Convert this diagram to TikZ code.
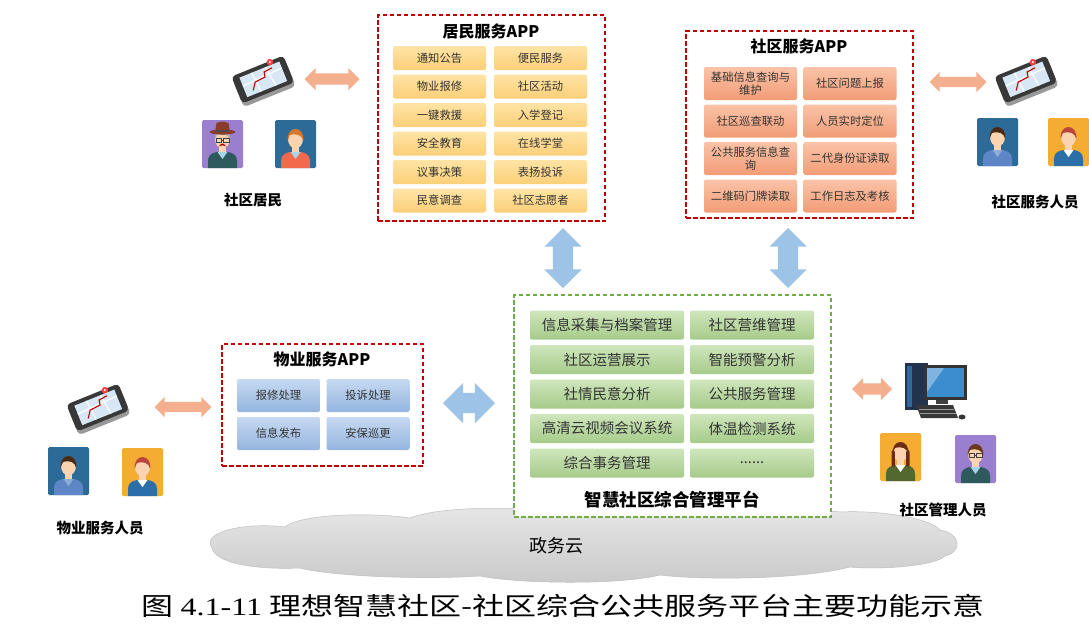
\documentclass[tikz,border=0pt]{standalone}
\usepackage{fontspec}
\setmainfont{Noto Sans CJK SC}
\newfontfamily\numfont{Liberation Serif}
\usetikzlibrary{arrows.meta,positioning,shapes.arrows,fit}

\definecolor{appred}{HTML}{C00000}
\definecolor{platgreen}{HTML}{70AD47}
\definecolor{resyellow}{HTML}{FFE4A6}
\definecolor{resyellowdk}{HTML}{FBCF78}
\definecolor{comsalmon}{HTML}{FAC3A8}
\definecolor{comsalmondk}{HTML}{F29C76}
\definecolor{propblue}{HTML}{C6D9F1}
\definecolor{propbluedk}{HTML}{95B5DF}
\definecolor{platlt}{HTML}{CFE6BC}
\definecolor{platdk}{HTML}{A6CB8A}
\definecolor{linkblue}{HTML}{9DC3E6}
\definecolor{linkorange}{HTML}{F4B08E}
\definecolor{skin}{HTML}{FAD3B0}
\definecolor{bgpurple}{HTML}{9A7FD1}
\definecolor{bgblue}{HTML}{2C6A97}
\definecolor{bgorange}{HTML}{F4AC32}
\definecolor{vestteal}{HTML}{2E5A5E}
\definecolor{shirtblue}{HTML}{A4D5E8}
\definecolor{hatbrown}{HTML}{8B3B2B}
\definecolor{hairorange}{HTML}{D9772A}
\definecolor{hairdark}{HTML}{4B2A15}
\definecolor{hairred}{HTML}{B9473B}
\definecolor{hairlong}{HTML}{6E2A15}
\definecolor{hairbrown}{HTML}{6B3A1E}
\definecolor{coatred}{HTML}{F26A4B}
\definecolor{shirtmid}{HTML}{5E86C6}
\definecolor{suitblue}{HTML}{2C6FA8}
\definecolor{olive}{HTML}{52682F}
\definecolor{pcnavy}{HTML}{23324D}
\definecolor{pcscreen}{HTML}{3C8DD0}

\tikzset{
  % bust in a coloured square: #1 backdrop, #2 hair, #3 jacket, #4 collar
  pics/avatar/.style n args={4}{code={
    \fill[#1, rounded corners=1.5pt] (0,0) rectangle (41,48);
    \fill[#3] (6,48) -- (6,41) .. controls (6,35) and (10,33) .. (15,32)
      -- (26,32) .. controls (31,33) and (35,35) .. (35,41) -- (35,48) -- cycle;
    \fill[skin] (17,25) rectangle (24,33);
    \fill[#4] (15.5,32) -- (20.5,39) -- (25.5,32) -- cycle;
    \fill[skin] (20.5,19) ellipse (7.5 and 9.5);
    \fill[#2] (12.8,21) .. controls (11,5) and (30,5) .. (28.2,21)
      .. controls (27,15) and (22,13) .. (15,15) .. controls (14,17) .. (12.8,21) -- cycle;
  }},
  % smartphone with a map on its screen
  pics/phone/.style={code={
    \begin{scope}[rotate=22]
      \fill[black!40, rounded corners=4pt] (-28,-11) rectangle (28,18);
      \fill[black!78, rounded corners=4pt] (-28,-15) rectangle (28,14);
      \fill[linkblue!40] (-21,-11) rectangle (22,10);
      \draw[white, line width=1.2pt] (-21,-2) -- (22,-4) (-8,-11) -- (-6,10) (7,-11) -- (10,10);
      \draw[red!75!black, line width=1.1pt] (-13,6) -- (-8,-1) -- (3,-2) -- (4,-7) -- (13,-8);
      \fill[red!75] (13,-14) circle (3.2);
      \fill[white] (13,-14) circle (1.1);
    \end{scope}
  }},
  % desktop computer
  pics/desktop/.style={code={
    \fill[pcnavy] (-31,-29) rectangle (-8,18);
    \fill[pcscreen!60!pcnavy] (-29,-26) rectangle (-24,15);
    \fill[black!75] (0,6) rectangle (12,12);
    \fill[black!80] (-12,-27) rectangle (31,8);
    \fill[pcscreen] (-9,-24) rectangle (28,5);
    \fill[white, opacity=0.35] (-9,-24) -- (8,-24) -- (-9,0) -- cycle;
    \fill[black!78] (-20,13) -- (17,13) -- (22,26) -- (-15,26) -- cycle;
    \draw[black!40, line width=0.5pt] (-17,17) -- (18,17) (-16,21) -- (20,21);
    \fill[black!80] (26,25) ellipse (3.5 and 2.5);
  }}
}

\begin{document}
\begin{tikzpicture}[x=1pt, y=-1pt,
  appframe/.style={draw=appred, line width=2pt, dash pattern=on 4.5pt off 2.5pt, fill=white, inner sep=0pt},
  platframe/.style={draw=platgreen, line width=1.8pt, dash pattern=on 4.5pt off 2.5pt, fill=white, inner sep=0pt},
  apptitle/.style={font=\fontsize{16}{18}\selectfont\bfseries, inner sep=1pt},
  item/.style={rounded corners=2pt, inner sep=1pt, align=center, text=black!80},
  resitem/.style={item, top color=resyellow, bottom color=resyellowdk, minimum width=93pt, minimum height=24pt, font=\fontsize{11.3}{13}\selectfont},
  comitem/.style={item, top color=comsalmon, bottom color=comsalmondk, minimum width=93pt, minimum height=33pt, font=\fontsize{11.3}{13.5}\selectfont},
  propitem/.style={item, top color=propblue, bottom color=propbluedk, minimum width=83pt, minimum height=33pt, font=\fontsize{11.3}{13}\selectfont},
  platitem/.style={item, top color=platlt, bottom color=platdk, minimum height=29pt, font=\fontsize{14.5}{16}\selectfont},
  bluelink/.style={double arrow, double arrow head extend=8.5pt, double arrow head indent=0pt,
    inner xsep=0pt, inner ysep=10pt, fill=linkblue},
  orangelink/.style={double arrow, double arrow head extend=5.5pt, double arrow head indent=0pt,
    inner xsep=0pt, inner ysep=5.5pt, fill=linkorange},
  who/.style={font=\fontsize{14.5}{16}\selectfont\bfseries}]

  % ---- Canvas ----
  \fill[white] (0,0) rectangle (1089,633);
  \useasboundingbox (0,0) rectangle (1089,633);

  % ---- Cloud ----
  \path[top color=gray!18, bottom color=gray!42, draw=gray!50, line width=0.5pt] (212,548)
    .. controls (200,532) and (245,522) .. (285,527)
    .. controls (300,514) and (370,512) .. (410,518)
    .. controls (440,506) and (520,506) .. (560,513)
    .. controls (620,502) and (760,504) .. (840,512)
    .. controls (880,510) and (930,518) .. (940,530)
    .. controls (962,534) and (962,552) .. (945,556)
    .. controls (935,566) and (880,570) .. (850,567)
    .. controls (800,580) and (700,580) .. (660,575)
    .. controls (620,585) and (520,584) .. (480,576)
    .. controls (420,580) and (330,576) .. (300,568)
    .. controls (250,570) and (215,562) .. (212,548) -- cycle;
  \node[font=\fontsize{18}{20}\selectfont] (cloud) at (556,546) {政务云};

  % ---- Resident APP ----
  \node[appframe, fit={(378,15) (605,221)}] (resapp) {};
  \node[apptitle] (restitle) at (491,31) {居民服务APP};
  \foreach \txt [count=\i from 0] in {通知公告,便民服务,物业报修,社区活动,一键救援,入学登记,
      安全教育,在线学堂,议事决策,表扬投诉,民意调查,社区志愿者}{
    \pgfmathsetmacro\cx{439.5+101*mod(\i,2)}
    \pgfmathsetmacro\cy{58+28.5*int(\i/2)}
    \node[resitem] (res\i) at (\cx,\cy) {\txt};
  }

  % ---- Community staff APP ----
  \node[appframe, fit={(686,31) (913,218)}] (comapp) {};
  \node[apptitle] (comtitle) at (799,46) {社区服务APP};
  \foreach \txt [count=\i from 0] in {{基础信息查询与\\维护},社区问题上报,社区巡查联动,人员实时定位,
      {公共服务信息查\\询},二代身份证读取,二维码门牌读取,工作日志及考核}{
    \pgfmathsetmacro\cx{750.5+99.5*mod(\i,2)}
    \pgfmathsetmacro\cy{83.5+37.5*int(\i/2)}
    \node[comitem] (com\i) at (\cx,\cy) {\txt};
  }

  % ---- Property APP ----
  \node[appframe, fit={(222,344) (423,466)}] (propapp) {};
  \node[apptitle] (proptitle) at (322,359) {物业服务APP};
  \foreach \txt [count=\i from 0] in {报修处理,投诉处理,信息发布,安保巡更}{
    \pgfmathsetmacro\cx{278.5+89.5*mod(\i,2)}
    \pgfmathsetmacro\cy{395.5+38*int(\i/2)}
    \node[propitem] (prop\i) at (\cx,\cy) {\txt};
  }

  % ---- Management platform ----
  \node[platframe, fit={(514,295) (831,517)}] (plat) {};
  \foreach \txt [count=\i from 0] in {信息采集与档案管理,社区营维管理,社区运营展示,智能预警分析,
      社情民意分析,公共服务管理,高清云视频会议系统,体温检测系统,综合事务管理}{
    \pgfmathsetmacro\cx{mod(\i,2)==0 ? 607 : 752}
    \pgfmathsetmacro\bw{mod(\i,2)==0 ? 154 : 124}
    \pgfmathsetmacro\cy{325+34.5*int(\i/2)}
    \node[platitem, minimum width=\bw pt] (plat\i) at (\cx,\cy) {\txt};
  }
  \node[platitem, minimum width=124pt] (plat9) at (752,463) {......};
  \node[font=\fontsize{17.5}{19}\selectfont\bfseries] (plattitle) at (672,500) {智慧社区综合管理平台};

  % ---- Links to the platform ----
  \node[bluelink, rotate=90, minimum height=60pt] (reslink) at (563,258) {};
  \node[bluelink, rotate=90, minimum height=60pt] (comlink) at (788,258) {};
  \node[bluelink, minimum height=52pt, double arrow head extend=10pt] (proplink) at (469,403) {};

  % ---- Residents ----
  \pic (resphone) at (263,80) {phone};
  \node[orangelink, minimum height=55pt] (resarrow) at (332,79) {};
  \pic (resman) at (202,120) {avatar={bgpurple}{gray!60}{vestteal}{shirtblue}};
  \begin{scope}[shift={(202,120)}]
    \fill[hatbrown] (20.5,12) ellipse (13 and 2.6);
    \fill[hatbrown] (13,12) -- (14.5,3) .. controls (20.5,1) .. (26.5,3) -- (28,12) -- cycle;
    \fill[black!70] (13.6,10) rectangle (27.4,12);
    \draw[black!75, line width=0.8pt] (14,18) rectangle (19.5,22.5) (21.5,18) rectangle (27,22.5) (19.5,20) -- (21.5,20);
    \fill[red!70!black] (16.5,26.5) .. controls (20.5,22.5) .. (24.5,26.5) .. controls (20.5,25) .. (16.5,26.5) -- cycle;
  \end{scope}
  \pic (reswoman) at (275,120) {avatar={bgblue}{hairorange}{coatred}{shirtblue}};
  \node[who] (reslabel) at (253,200) {社区居民};

  % ---- Community staff ----
  \pic (comphone) at (1026,80) {phone};
  \node[orangelink, minimum height=57pt, inner ysep=5pt, double arrow head extend=5pt] (comarrow) at (958,82) {};
  \pic (comman) at (977,118) {avatar={bgblue}{hairdark}{shirtmid}{shirtmid!70!white}};
  \pic (comwoman) at (1048,118) {avatar={bgorange}{hairred}{suitblue}{white}};
  \node[who] (comlabel) at (1035,202) {社区服务人员};

  % ---- Property staff ----
  \pic (propphone) at (98,408) {phone};
  \node[orangelink, minimum height=57pt, inner ysep=5pt, double arrow head extend=5pt] (proparrow) at (183,407) {};
  \pic (propman) at (48,447) {avatar={bgblue}{hairdark}{shirtmid}{shirtmid!70!white}};
  \pic (propwoman) at (122,448) {avatar={bgorange}{hairred}{suitblue}{white}};
  \node[who] (proplabel) at (100,528) {物业服务人员};

  % ---- Community managers ----
  \pic (mgrpc) at (936,392) {desktop};
  \node[orangelink, minimum height=40pt] (mgrarrow) at (872,389) {};
  \pic (mgrwoman) at (880,433) {avatar={bgorange}{hairlong}{olive}{white}};
  \begin{scope}[shift={(880,433)}]
    \fill[hairlong, rounded corners=2pt] (11.5,17) rectangle (14.8,34);
    \fill[hairlong, rounded corners=2pt] (26.2,17) rectangle (29.5,34);
  \end{scope}
  \pic (mgrman) at (955,435) {avatar={bgpurple}{hairbrown}{vestteal}{shirtblue}};
  \begin{scope}[shift={(955,435)}]
    \draw[black!75, line width=0.8pt] (14,18) rectangle (19.5,22.5) (21.5,18) rectangle (27,22.5) (19.5,20) -- (21.5,20);
  \end{scope}
  \node[who] (mgrlabel) at (943,510) {社区管理人员};

  % ---- Caption ----
  \node (caption) at (563,606)
    {\scalebox{1.28}[1]{\fontsize{25}{28}\selectfont 图 {\numfont 4.1-11} 理想智慧社区-社区综合公共服务平台主要功能示意}};

\end{tikzpicture}
\end{document}
